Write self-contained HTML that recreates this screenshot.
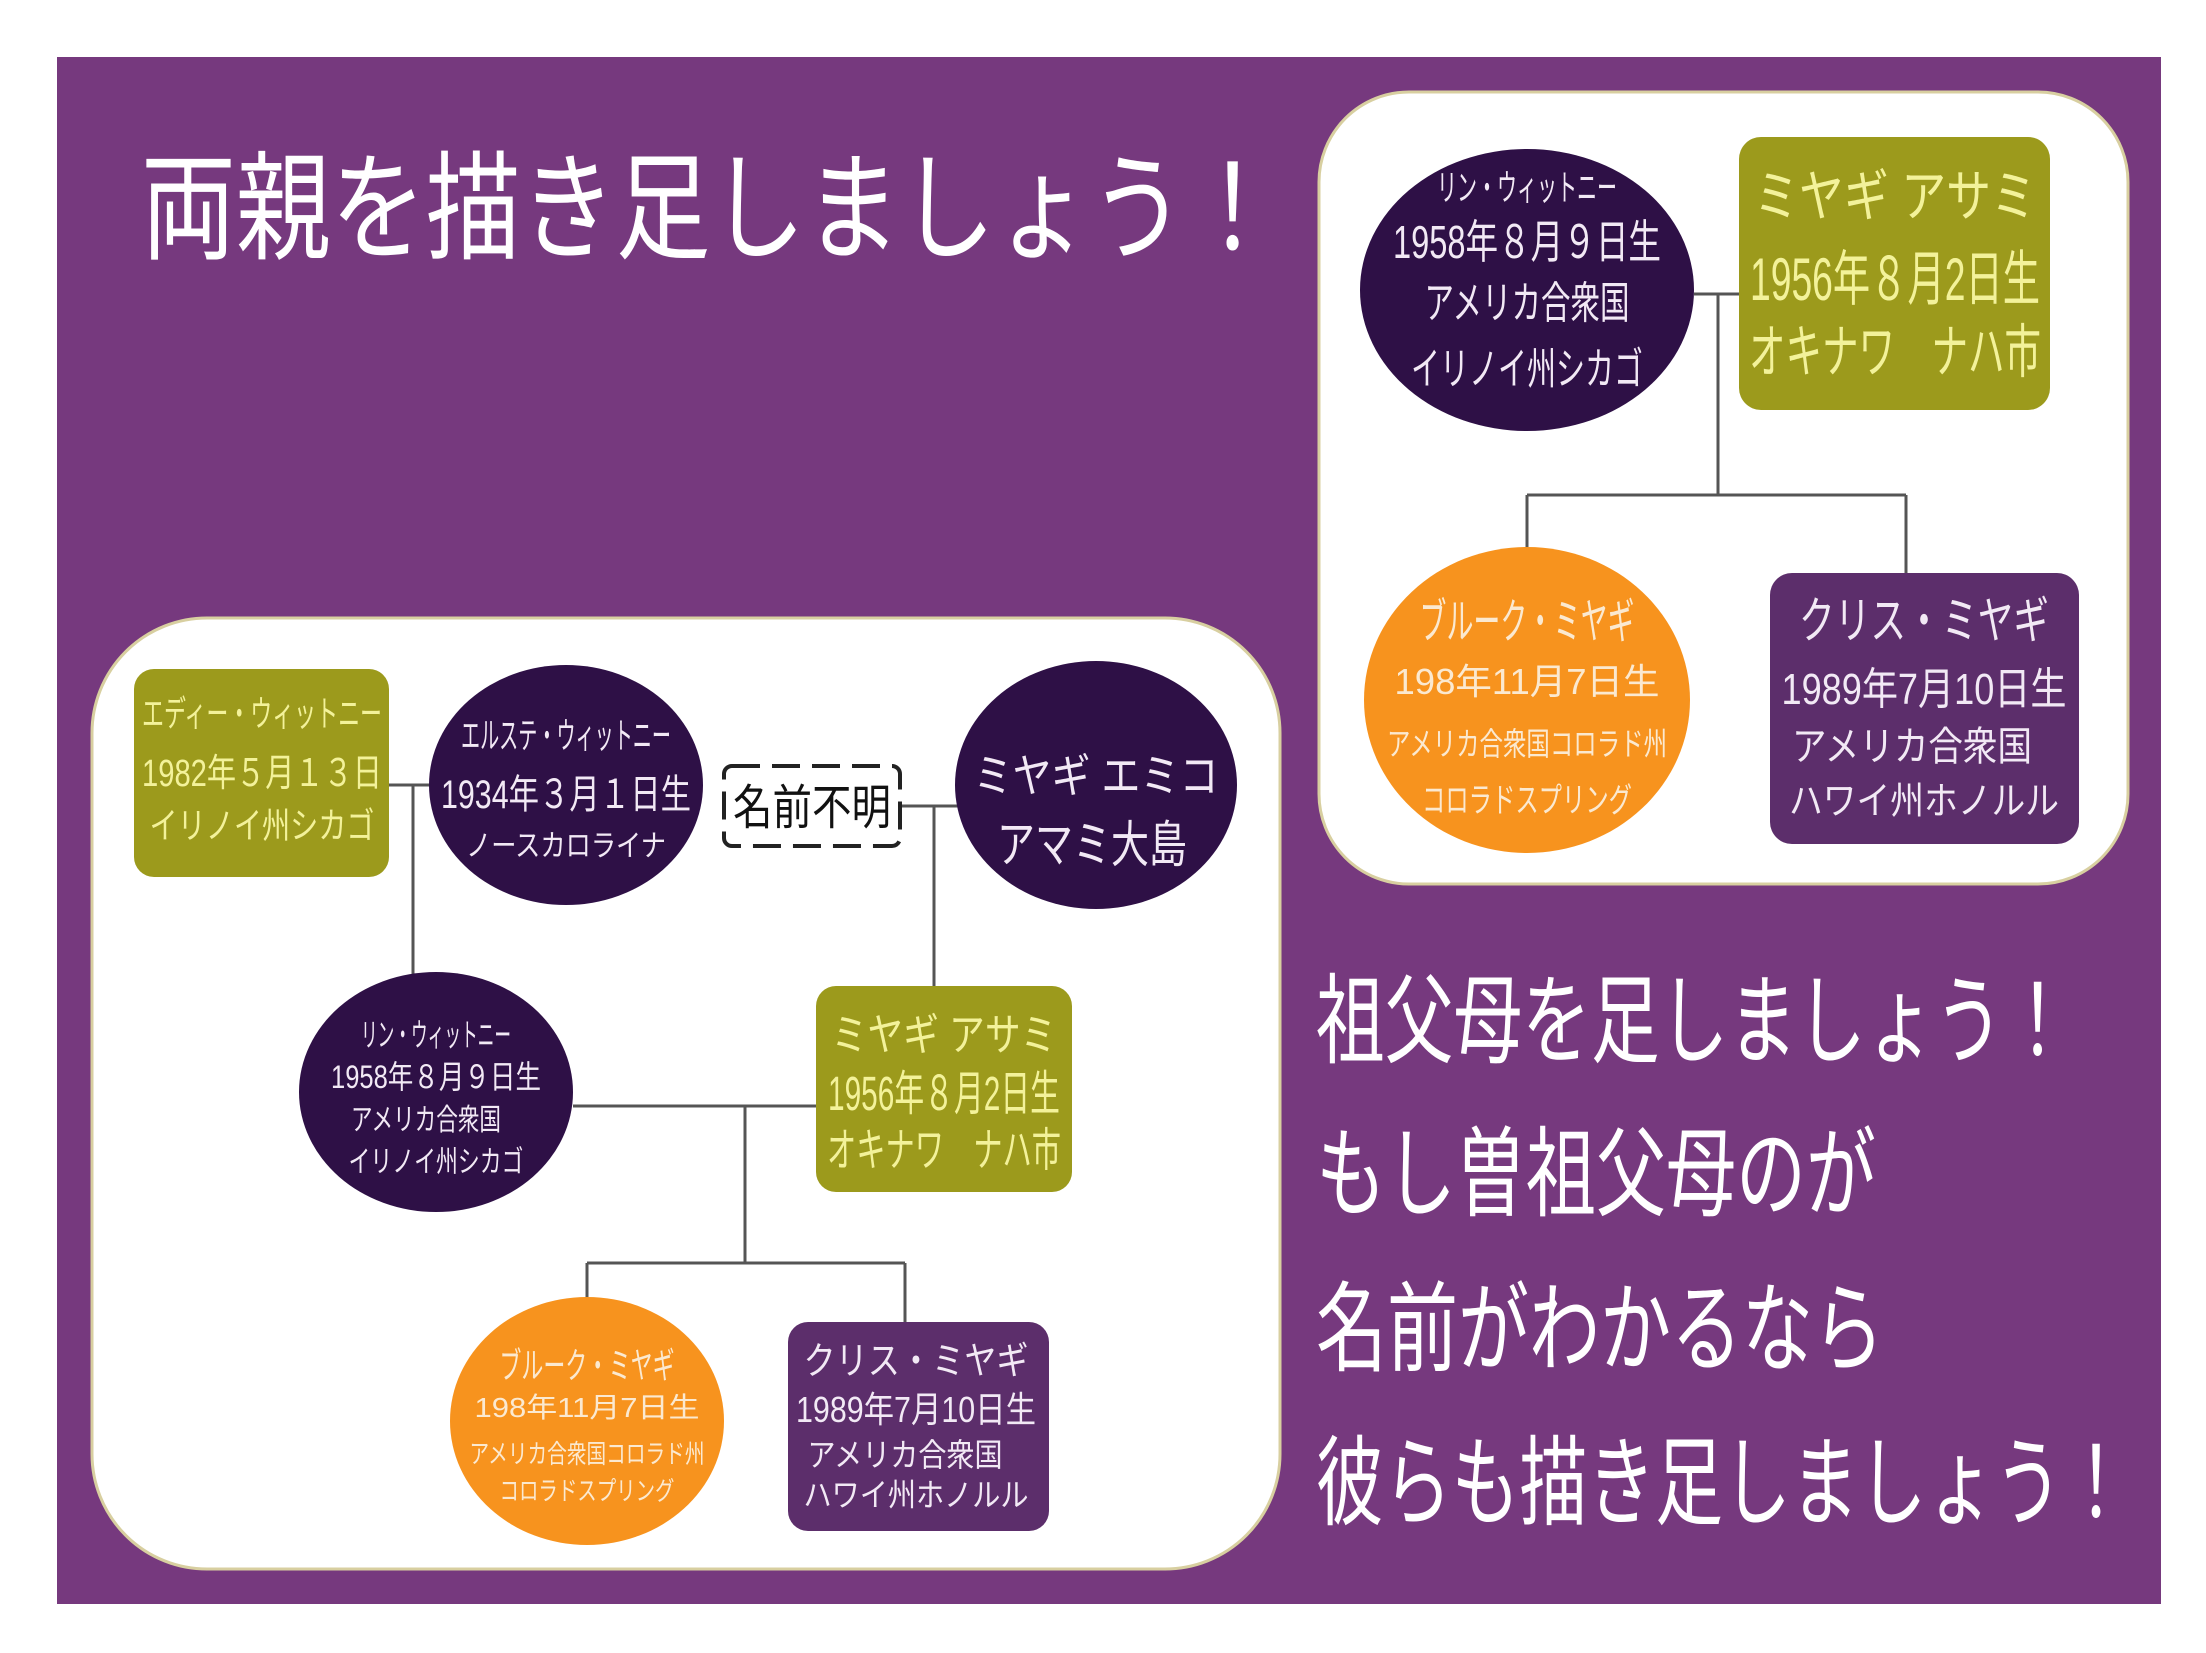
<!DOCTYPE html>
<html><head><meta charset="utf-8"><style>
html,body{margin:0;padding:0;background:#fff;}
svg{display:block;}
text{font-family:"Liberation Sans","Noto Sans CJK JP",sans-serif;text-anchor:middle;}
</style></head><body>
<svg width="2206" height="1653" viewBox="0 0 2206 1653" xmlns="http://www.w3.org/2000/svg">
<rect x="0" y="0" width="2206" height="1653" fill="#ffffff"/>
<rect x="57" y="57" width="2104" height="1547" fill="#76397e"/>
<text x="141" y="250" font-size="118" fill="#fff" style="text-anchor:start" textLength="1139" lengthAdjust="spacingAndGlyphs">両親を描き足しましょう！</text>

<rect x="1319" y="92" width="809" height="792" rx="90" fill="#fff" stroke="#d8cfa0" stroke-width="3"/>
<g stroke="#555" stroke-width="3" fill="none">
<path d="M1694 294H1739M1718 294V495M1527 495H1906M1527 495V550M1906 495V573"/>
</g>
<ellipse cx="1527" cy="290" rx="167" ry="141" fill="#2e1046"/>
<rect x="1739" y="137" width="311" height="273" rx="22" fill="#9c9a1c"/>
<ellipse cx="1527" cy="700" rx="163" ry="153" fill="#f7931e"/>
<rect x="1770" y="573" width="309" height="271" rx="22" fill="#5c2e6b"/>
<g fill="#f2e9f5">
<text x="1527" y="200" font-size="36" textLength="180" lengthAdjust="spacingAndGlyphs">リン・ウィットニー</text>
<text x="1527" y="258" font-size="46" textLength="268" lengthAdjust="spacingAndGlyphs">1958年８月９日生</text>
<text x="1527" y="318" font-size="44" textLength="205" lengthAdjust="spacingAndGlyphs">アメリカ合衆国</text>
<text x="1527" y="384" font-size="44" textLength="232" lengthAdjust="spacingAndGlyphs">イリノイ州シカゴ</text>
</g>
<g fill="#f3f29a">
<text x="1895" y="216" font-size="56" textLength="282" lengthAdjust="spacingAndGlyphs">ミヤギ アサミ</text>
<text x="1895" y="300" font-size="60" textLength="290" lengthAdjust="spacingAndGlyphs">1956年８月2日生</text>
<text x="1895" y="372" font-size="58" textLength="292" lengthAdjust="spacingAndGlyphs">オキナワ　ナハ市</text>
</g>
<g fill="#fbe9d0">
<text x="1527" y="638" font-size="48" textLength="215" lengthAdjust="spacingAndGlyphs">ブルーク・ミヤギ</text>
<text x="1527" y="694" font-size="36" textLength="265" lengthAdjust="spacingAndGlyphs">198年11月7日生</text>
<text x="1527" y="755" font-size="32" textLength="280" lengthAdjust="spacingAndGlyphs">アメリカ合衆国コロラド州</text>
<text x="1527" y="812" font-size="34" textLength="210" lengthAdjust="spacingAndGlyphs">コロラドスプリング</text>
</g>
<g fill="#f2e9f5">
<text x="1924" y="638" font-size="50" textLength="250" lengthAdjust="spacingAndGlyphs">クリス・ミヤギ</text>
<text x="1924" y="704" font-size="44" textLength="285" lengthAdjust="spacingAndGlyphs">1989年7月10日生</text>
<text x="1912" y="760" font-size="40" textLength="240" lengthAdjust="spacingAndGlyphs">アメリカ合衆国</text>
<text x="1924" y="814" font-size="38" textLength="270" lengthAdjust="spacingAndGlyphs">ハワイ州ホノルル</text>
</g>

<g fill="#fff">
<text x="1316" y="1055" font-size="98" style="text-anchor:start" textLength="756" lengthAdjust="spacingAndGlyphs">祖父母を足しましょう！</text>
<text x="1316" y="1208" font-size="98" style="text-anchor:start" textLength="560" lengthAdjust="spacingAndGlyphs">もし曽祖父母のが</text>
<text x="1316" y="1363" font-size="98" style="text-anchor:start" textLength="568" lengthAdjust="spacingAndGlyphs">名前がわかるなら</text>
<text x="1316" y="1517" font-size="98" style="text-anchor:start" textLength="814" lengthAdjust="spacingAndGlyphs">彼らも描き足しましょう！</text>
</g>

<rect x="92" y="618" width="1188" height="951" rx="115" fill="#fff" stroke="#d8cfa0" stroke-width="3"/>
<g stroke="#555" stroke-width="3" fill="none">
<path d="M389 785H429M413 785V975M901 806H972M934 806V986M573 1106H816M745 1106V1263M587 1263H905M587 1263V1300M905 1263V1322"/>
</g>
<rect x="134" y="669" width="255" height="208" rx="20" fill="#9c9a1c"/>
<ellipse cx="566" cy="785" rx="137" ry="120" fill="#2e1046"/>
<ellipse cx="1096" cy="785" rx="141" ry="124" fill="#2e1046"/>
<rect x="724" y="766" width="176" height="80" rx="8" fill="#fff" stroke="#222" stroke-width="4" stroke-dasharray="28 12"/>
<text x="812" y="824" font-size="48" fill="#111" textLength="158" lengthAdjust="spacingAndGlyphs">名前不明</text>
<ellipse cx="436" cy="1092" rx="137" ry="120" fill="#2e1046"/>
<rect x="816" y="986" width="256" height="206" rx="20" fill="#9c9a1c"/>
<ellipse cx="587" cy="1421" rx="137" ry="124" fill="#f7931e"/>
<rect x="788" y="1322" width="261" height="209" rx="20" fill="#5c2e6b"/>

<g fill="#f3f29a">
<text x="262" y="726" font-size="36" textLength="240" lengthAdjust="spacingAndGlyphs">エディー・ウィットニー</text>
<text x="262" y="786" font-size="38" textLength="240" lengthAdjust="spacingAndGlyphs">1982年５月１３日</text>
<text x="262" y="838" font-size="36" textLength="225" lengthAdjust="spacingAndGlyphs">イリノイ州シカゴ</text>
</g>
<g fill="#f2e9f5">
<text x="566" y="748" font-size="36" textLength="210" lengthAdjust="spacingAndGlyphs">エルステ・ウィットニー</text>
<text x="566" y="808" font-size="40" textLength="250" lengthAdjust="spacingAndGlyphs">1934年３月１日生</text>
<text x="566" y="856" font-size="30" textLength="200" lengthAdjust="spacingAndGlyphs">ノースカロライナ</text>
<text x="1096" y="792" font-size="46" textLength="245" lengthAdjust="spacingAndGlyphs">ミヤギ エミコ</text>
<text x="1092" y="862" font-size="50" textLength="190" lengthAdjust="spacingAndGlyphs">アマミ大島</text>
<text x="436" y="1046" font-size="32" textLength="150" lengthAdjust="spacingAndGlyphs">リン・ウィットニー</text>
<text x="436" y="1088" font-size="32" textLength="210" lengthAdjust="spacingAndGlyphs">1958年８月９日生</text>
<text x="426" y="1130" font-size="30" textLength="150" lengthAdjust="spacingAndGlyphs">アメリカ合衆国</text>
<text x="436" y="1172" font-size="30" textLength="175" lengthAdjust="spacingAndGlyphs">イリノイ州シカゴ</text>
</g>
<g fill="#f3f29a">
<text x="944" y="1050" font-size="44" textLength="225" lengthAdjust="spacingAndGlyphs">ミヤギ アサミ</text>
<text x="944" y="1110" font-size="48" textLength="232" lengthAdjust="spacingAndGlyphs">1956年８月2日生</text>
<text x="944" y="1166" font-size="46" textLength="234" lengthAdjust="spacingAndGlyphs">オキナワ　ナハ市</text>
</g>
<g fill="#fbe9d0">
<text x="587" y="1378" font-size="36" textLength="175" lengthAdjust="spacingAndGlyphs">ブルーク・ミヤギ</text>
<text x="587" y="1417" font-size="28" textLength="225" lengthAdjust="spacingAndGlyphs">198年11月7日生</text>
<text x="587" y="1463" font-size="26" textLength="235" lengthAdjust="spacingAndGlyphs">アメリカ合衆国コロラド州</text>
<text x="587" y="1500" font-size="26" textLength="175" lengthAdjust="spacingAndGlyphs">コロラドスプリング</text>
</g>
<g fill="#f2e9f5">
<text x="916" y="1374" font-size="38" textLength="225" lengthAdjust="spacingAndGlyphs">クリス・ミヤギ</text>
<text x="916" y="1422" font-size="36" textLength="240" lengthAdjust="spacingAndGlyphs">1989年7月10日生</text>
<text x="905" y="1466" font-size="32" textLength="195" lengthAdjust="spacingAndGlyphs">アメリカ合衆国</text>
<text x="916" y="1506" font-size="32" textLength="225" lengthAdjust="spacingAndGlyphs">ハワイ州ホノルル</text>
</g>
</svg>
</body></html>
